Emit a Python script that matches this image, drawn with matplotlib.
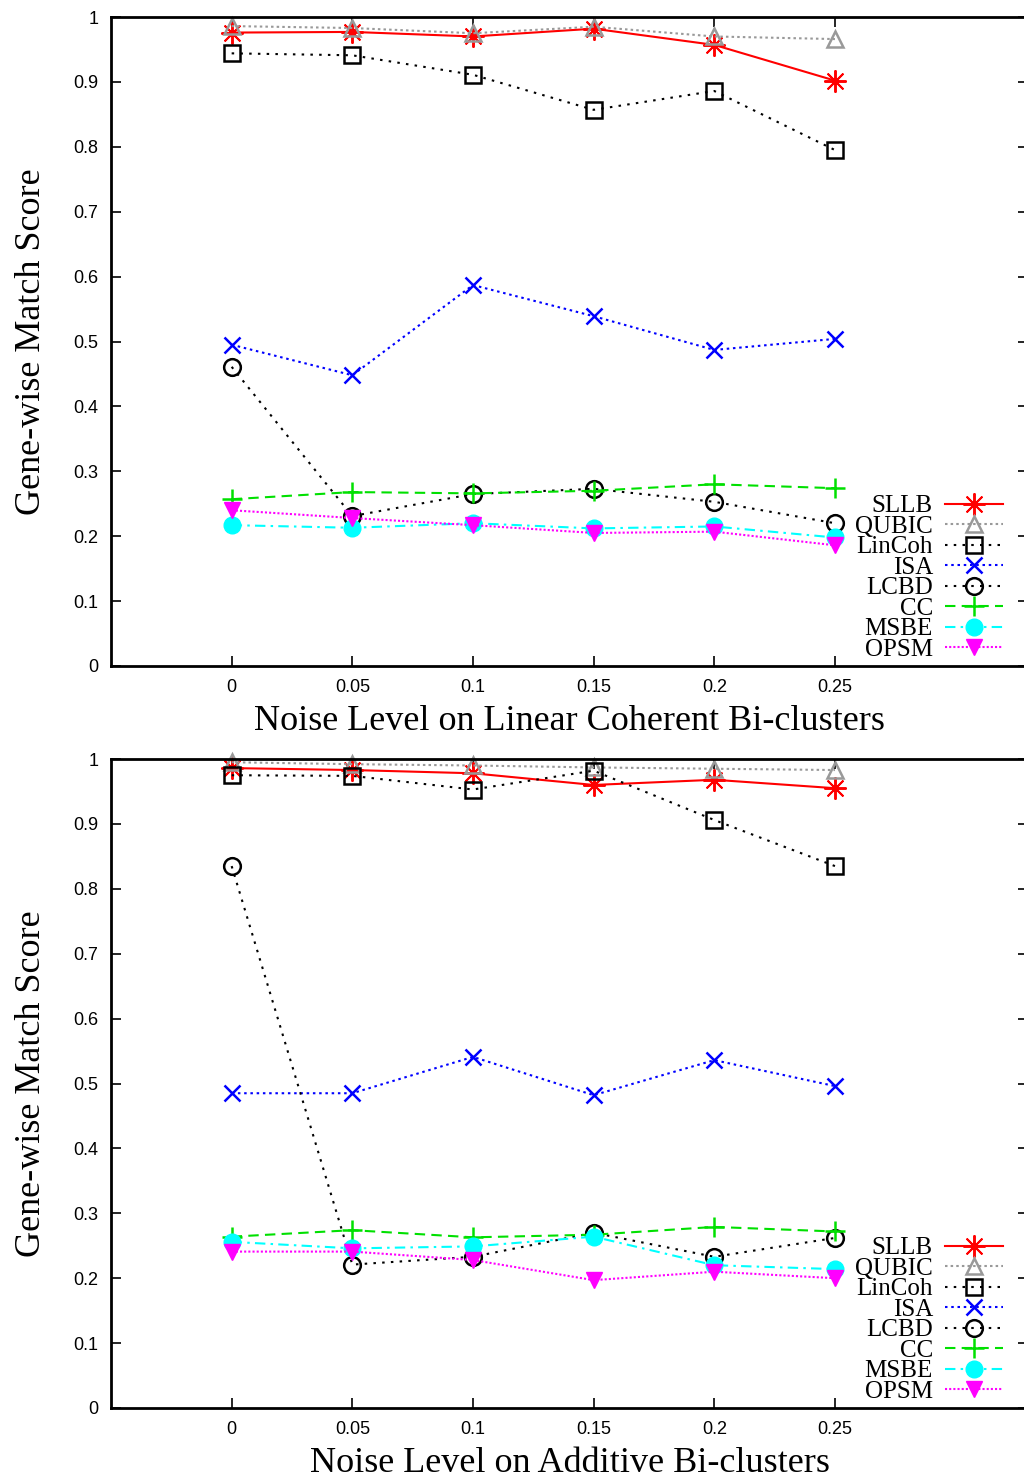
import matplotlib
matplotlib.use("Agg")
import matplotlib.pyplot as plt

# noise levels on the x axis
noise = [0, 0.05, 0.1, 0.15, 0.2, 0.25]
xtick_labels = ["0", "0.05", "0.1", "0.15", "0.2", "0.25"]
yticks = [0, 0.1, 0.2, 0.3, 0.4, 0.5, 0.6, 0.7, 0.8, 0.9, 1]
ytick_labels = ["0", "0.1", "0.2", "0.3", "0.4", "0.5", "0.6", "0.7", "0.8", "0.9", "1"]

methods = ["SLLB", "QUBIC", "LinCoh", "ISA", "LCBD", "CC", "MSBE", "OPSM"]

# linear coherent bi-clusters
linear_sllb = [0.976, 0.977, 0.970, 0.982, 0.957, 0.902]
linear_qubic = [0.986, 0.983, 0.975, 0.985, 0.970, 0.966]
linear_lincoh = [0.944, 0.941, 0.911, 0.857, 0.886, 0.795]
linear_isa = [0.495, 0.448, 0.587, 0.539, 0.487, 0.504]
linear_lcbd = [0.461, 0.231, 0.265, 0.273, 0.253, 0.220]
linear_cc = [0.257, 0.268, 0.266, 0.270, 0.280, 0.274]
linear_msbe = [0.217, 0.213, 0.220, 0.212, 0.215, 0.198]
linear_opsm = [0.240, 0.228, 0.217, 0.205, 0.207, 0.186]

# additive bi-clusters
additive_sllb = [0.986, 0.983, 0.978, 0.960, 0.968, 0.955]
additive_qubic = [0.995, 0.992, 0.990, 0.987, 0.985, 0.983]
additive_lincoh = [0.975, 0.974, 0.953, 0.982, 0.906, 0.835]
additive_isa = [0.485, 0.485, 0.541, 0.482, 0.536, 0.496]
additive_lcbd = [0.835, 0.221, 0.233, 0.270, 0.233, 0.262]
additive_cc = [0.264, 0.274, 0.263, 0.267, 0.279, 0.272]
additive_msbe = [0.256, 0.246, 0.249, 0.264, 0.220, 0.214]
additive_opsm = [0.241, 0.241, 0.228, 0.197, 0.210, 0.200]

linear = [linear_sllb, linear_qubic, linear_lincoh, linear_isa,
          linear_lcbd, linear_cc, linear_msbe, linear_opsm]
additive = [additive_sllb, additive_qubic, additive_lincoh, additive_isa,
            additive_lcbd, additive_cc, additive_msbe, additive_opsm]

styles = [
    dict(color="#ff0000", ls="-", marker=(8, 2, 0), mfc="none", ms=16, mew=1.4),
    dict(color="#999999", ls=(0, (1.2, 1.5)), marker="^", mfc="none", ms=12, mew=1.8),
    dict(color="black", ls=(0, (1.2, 3.0)), marker="s", mfc="none", ms=12, mew=1.8),
    dict(color="#0000ff", ls=(0, (1.2, 1.8)), marker="x", mfc="none", ms=12, mew=1.8),
    dict(color="black", ls=(0, (1.2, 3.0)), marker="o", mfc="none", ms=12, mew=1.8),
    dict(color="#00e000", ls=(0, (5, 3)), marker="+", mfc="none", ms=15, mew=1.8),
    dict(color="#00ffff", ls=(0, (5, 2.5, 1.2, 2.5)), marker="o", ms=12, mew=1.0),
    dict(color="#ff00ff", ls=(0, (1, 1)), marker="v", ms=11, mew=1.0),
]

serif = ["Liberation Serif", "DejaVu Serif"]
narrow = ["Liberation Sans Narrow", "Liberation Sans", "DejaVu Sans"]

fig = plt.figure(figsize=(10.24, 14.78), dpi=100)

panels = [
    (linear, "Noise Level on Linear Coherent Bi-clusters", 666),
    (additive, "Noise Level on Additive Bi-clusters", 1408),
]

W, H = 1024.0, 1478.0
for data, xlabel, bottom_px in panels:
    ax = fig.add_axes([111 / W, (H - bottom_px) / H, 917 / W, 649 / H])
    for name, vals, st in zip(methods, data, styles):
        ax.plot(noise, vals, label=name, lw=1.5, color=st["color"], ls=st["ls"],
                marker=st["marker"], ms=st["ms"], mew=st["mew"],
                mfc=st.get("mfc", st["color"]), mec=st["color"], clip_on=False)

    ax.set_xlim(-0.05, 0.33)
    ax.set_ylim(0, 1)
    ax.set_xticks(noise)
    ax.set_xticklabels(xtick_labels, family=narrow, fontsize=13)
    ax.set_yticks(yticks)
    ax.set_yticklabels(ytick_labels, family=narrow, fontsize=13)
    ax.tick_params(direction="in", length=7, width=1.2, top=True, right=True)
    ax.tick_params(axis="x", pad=9)
    ax.tick_params(axis="y", pad=9)
    for sp in ax.spines.values():
        sp.set_linewidth(2)

    ax.set_xlabel(xlabel, family=serif, fontsize=26, labelpad=7)
    ax.set_ylabel("Gene-wise Match Score", family=serif, fontsize=26, labelpad=18)

    ax.legend(loc="lower right", bbox_to_anchor=(0.9727, 0.008), frameon=False,
              markerfirst=False, prop=dict(family=serif, size=18),
              handlelength=2.3, handletextpad=0.5, labelspacing=-0.08,
              borderpad=0, borderaxespad=0)

fig.savefig("out.png", dpi=100)
